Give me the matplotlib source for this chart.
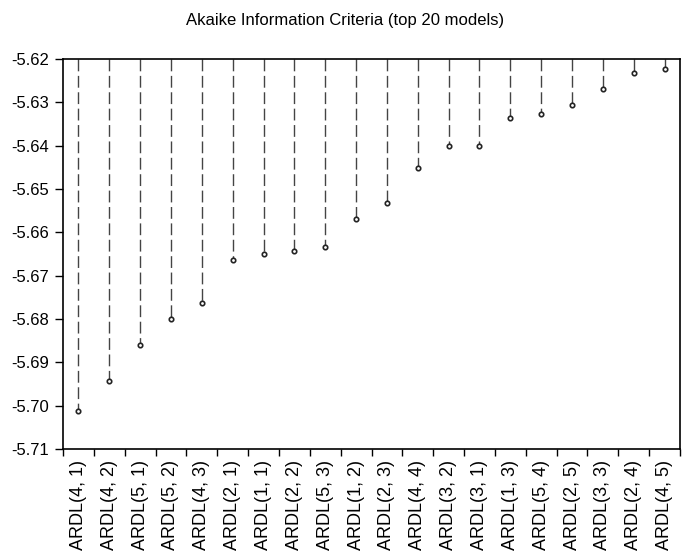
import numpy as np
import matplotlib
matplotlib.use("Agg")
import matplotlib.pyplot as plt

plt.rcParams['font.family'] = ['Liberation Sans', 'DejaVu Sans']

# ==========================================
# DATA
# ==========================================
models = ["ARDL(4, 1)", "ARDL(4, 2)", "ARDL(5, 1)", "ARDL(5, 2)", "ARDL(4, 3)",
          "ARDL(2, 1)", "ARDL(1, 1)", "ARDL(2, 2)", "ARDL(5, 3)", "ARDL(1, 2)",
          "ARDL(2, 3)", "ARDL(4, 4)", "ARDL(3, 2)", "ARDL(3, 1)", "ARDL(1, 3)",
          "ARDL(5, 4)", "ARDL(2, 5)", "ARDL(3, 3)", "ARDL(2, 4)", "ARDL(4, 5)"]
aic = [-5.7012, -5.6942, -5.6859, -5.6800, -5.6762,
       -5.6663, -5.6649, -5.6644, -5.6635, -5.6569,
       -5.6532, -5.6452, -5.6401, -5.6400, -5.6337,
       -5.6328, -5.6307, -5.6269, -5.6232, -5.6224]
y_ticks = [-5.71, -5.70, -5.69, -5.68, -5.67, -5.66, -5.65, -5.64, -5.63, -5.62]

# ==========================================
# PLOTTING
# ==========================================
fig = plt.figure(figsize=(6.82, 5.58), dpi=100)
ax = fig.add_axes([63 / 682, 1 - 449 / 558, 617 / 682, 390 / 558])

top = y_ticks[-1]
x = np.arange(len(models))
# dashed drop lines start at the top of the frame
for i, v in zip(x, aic):
    ax.plot([i, i], [top, v], color='#444444', lw=1.0,
            linestyle=(0, (8.5, 3.3)), dash_capstyle='butt')
ax.plot(x, aic, linestyle='none', marker='o', ms=3.2, mfc='white',
        mec='#222222', mew=1.2)

ax.set_xlim(-0.5, len(models) - 0.5)
ax.set_ylim(y_ticks[0], y_ticks[-1])
ax.set_yticks(y_ticks)
ax.set_yticklabels([f"{t:.2f}" for t in y_ticks])

ax.set_xticks(x)
ax.set_xticklabels(models, rotation=90)
ax.set_xticks(np.arange(-0.5, len(models)), minor=True)
ax.tick_params(axis='x', which='major', length=0, labelsize=13, pad=8)
ax.tick_params(axis='x', which='minor', length=5, width=1, direction='out')
ax.tick_params(axis='y', length=6, width=1, direction='out', labelsize=12, pad=4)

for s in ax.spines.values():
    s.set_linewidth(1.2)
    s.set_color('black')

fig.text(345 / 682, 1 - 20 / 558, "Akaike Information Criteria (top 20 models)",
         ha='center', va='center', fontsize=12)

fig.savefig("out.png", dpi=100)
